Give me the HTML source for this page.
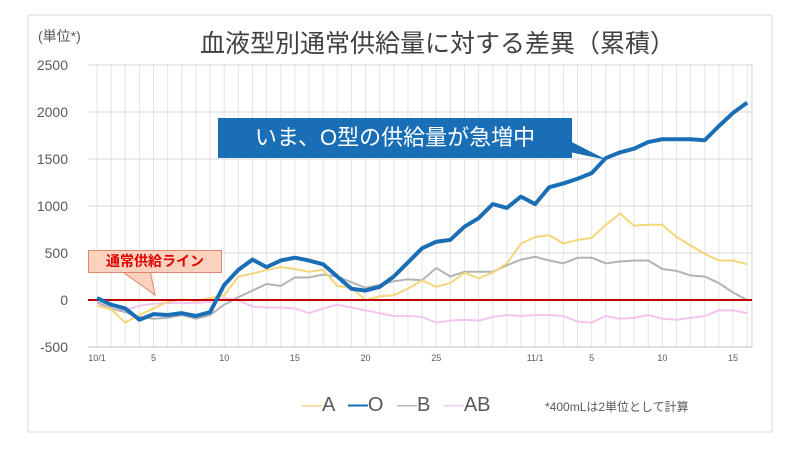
<!DOCTYPE html>
<html><head><meta charset="utf-8"><style>
body{margin:0;background:#fff;font-family:"Liberation Sans","Noto Sans CJK JP",sans-serif;}
#wrap{position:relative;width:800px;height:450px;overflow:hidden;background:#fff}
</style></head><body>
<div id="wrap">
<svg id="chart" width="800" height="450" font-family="Liberation Sans, Noto Sans CJK JP, sans-serif"></svg>
</div>
<script>
const days=[];for(let i=1;i<=47;i++)days.push(i);
const tickLabels=["10/1","5","10","15","20","25","11/1","5","10","15"];
const tickDays=[1,5,10,15,20,25,32,36,41,46];
const yTicks=[2500,2000,1500,1000,500,0,-500];
const seriesO=[20,-50,-90,-210,-150,-160,-140,-170,-130,160,320,430,350,420,450,420,380,250,120,100,140,250,400,550,620,640,780,870,1020,980,1100,1020,1200,1240,1290,1350,1510,1570,1610,1680,1710,1710,1710,1700,1850,1990,2100];
const seriesA=[-60,-100,-240,-160,-90,-20,10,-10,20,50,250,280,320,350,330,300,320,150,130,0,40,50,120,210,140,180,290,230,290,390,600,670,690,600,640,660,800,920,790,800,800,670,580,490,420,420,380];
const seriesB=[-20,-90,-130,-180,-200,-190,-160,-200,-160,-50,30,100,170,150,240,240,270,250,190,130,160,200,220,210,340,250,300,300,300,370,430,460,420,390,450,450,390,410,420,420,330,310,260,250,180,80,0];
const seriesAB=[-30,-100,-110,-60,-40,-30,-30,-30,-20,20,0,-70,-80,-80,-90,-140,-90,-50,-80,-110,-140,-170,-170,-180,-240,-220,-210,-220,-180,-160,-170,-160,-160,-170,-230,-240,-170,-200,-190,-160,-200,-210,-190,-170,-110,-110,-140];

const svg=document.getElementById('chart');const NS='http://www.w3.org/2000/svg';
const L=88,R=752,T=64,B=347;
const xS=d=>97+(d-1)*(733-97)/45;
const yS=v=>300-v*47/500;
function mk(tag,at,parent){const e=document.createElementNS(NS,tag);for(const k in at)e.setAttribute(k,at[k]);(parent||svg).appendChild(e);return e;}
const frame=mk('rect',{x:28,y:15,width:744,height:417,fill:'#fff',stroke:'#d9d9d9'});


days.forEach(d=>{const l=mk('line',{x1:xS(d),x2:xS(d),y1:T,y2:B,stroke:'#e4e4e4','stroke-width':1});

});
const re=mk('line',{x1:R,x2:R,y1:T,y2:B,stroke:'#d0d0d0'});


yTicks.forEach(v=>{const l=mk('line',{x1:L,x2:R,y1:yS(v),y2:yS(v),stroke:'#d9d9d9'});


const t=mk('text',{x:68,y:yS(v)+5,'text-anchor':'end','font-size':14,fill:'#595959'});t.textContent=v;

});
const xa=mk('line',{x1:L,x2:R,y1:B,y2:B,stroke:'#bfbfbf'});


tickLabels.forEach((s,i)=>{const t=mk('text',{x:xS(tickDays[i]),y:361,'text-anchor':'middle','font-size':9,fill:'#595959'});t.textContent=s;

});
function line(data,color,w,name){const p=mk('polyline',{points:data.map((v,i)=>xS(days[i])+','+yS(v)).join(' '),fill:'none',stroke:color,'stroke-width':w,'stroke-linejoin':'round'});

}
line(seriesAB,'#f2c4ee',2,'series-ab');
line(seriesB,'#b3b3b3',2,'series-b');
line(seriesA,'#f5d67a',2,'series-a');
const zl=mk('line',{x1:L,x2:R,y1:yS(0),y2:yS(0),stroke:'#c00000','stroke-width':2});


line(seriesO,'#1a6eb5',4,'series-o');
</script>
<div style="position:absolute;left:150px;top:24px;width:575px;text-align:center;font-size:25px;color:#404040;white-space:nowrap">血液型別通常供給量に対する差異（累積）</div>
<div style="position:absolute;left:38px;top:26px;font-size:14px;color:#595959">(単位*)</div>
<svg style="position:absolute;left:0;top:0" width="800" height="450">
<polygon points="560,136 607,160 560,150" fill="#1a6eb5"/>
<polygon points="120,270 155,295 150,270" fill="#fbd2bd" stroke="#e0866a"/>
</svg>
<div style="position:absolute;left:218px;top:118px;width:354px;height:40px;background:#1a6eb5;color:#fff;font-size:22px;line-height:40px;text-align:center">いま、O型の供給量が急増中</div>
<div style="position:absolute;left:88px;top:250px;width:132px;height:21px;background:#fbd2bd;border:1px solid #e0866a;color:#e00000;font-weight:bold;font-size:14px;line-height:21px;text-align:center">通常供給ライン</div>
<div style="position:absolute;left:302px;top:394px;font-size:20px;color:#595959;white-space:nowrap">
<span><span style="color:#f5d67a">—</span>A</span>
<span style="margin-left:8px"><span style="color:#1a6eb5;font-weight:bold">—</span>O</span>
<span style="margin-left:8px"><span style="color:#b3b3b3">—</span>B</span>
<span style="margin-left:8px"><span style="color:#f2c4ee">—</span>AB</span>
</div>
<div style="position:absolute;left:545px;top:398px;font-size:12px;color:#595959">*400mLは2単位として計算</div>
</body></html>
